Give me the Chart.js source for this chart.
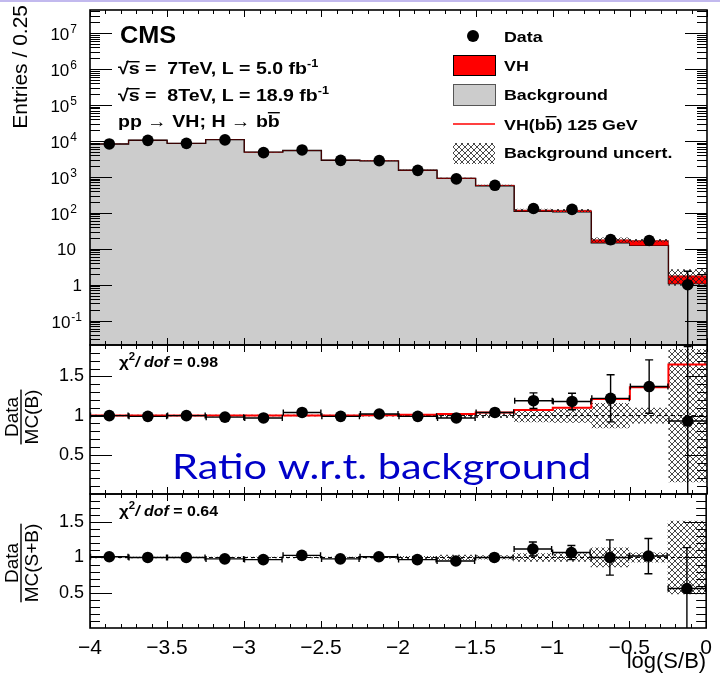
<!DOCTYPE html>
<html>
<head>
<meta charset="utf-8">
<title>VH(bb) log(S/B)</title>
<script src="https://cdn.jsdelivr.net/npm/chart.js@4.4.1/dist/chart.umd.min.js"></script>
<style>
  html, body { margin: 0; padding: 0; background: #fff; }
  #wrap { position: relative; width: 720px; height: 680px; overflow: hidden; }
  #wrap canvas { position: absolute; left: 0; top: 0; }
  .topline { position: absolute; left: 0; top: 0; width: 720px; height: 2px; background: #c2b9ee; z-index: 5; }
</style>
</head>
<body>
<div id="wrap">
  <div class="topline"></div>
  <canvas id="main-pad" width="720" height="680"></canvas>
  <canvas id="ratio-b" width="720" height="680"></canvas>
  <canvas id="ratio-sb" width="720" height="680"></canvas>
</div>
<script>
// bins of log(S/B), width 0.25
const binEdges = [-4, -3.75, -3.5, -3.25, -3, -2.75, -2.5, -2.25, -2, -1.75, -1.5, -1.25, -1, -0.75, -0.5, -0.25, 0];
const binCenters = [-3.875, -3.625, -3.375, -3.125, -2.875, -2.625, -2.375, -2.125, -1.875, -1.625, -1.375, -1.125, -0.875, -0.625, -0.375, -0.125];

// upper pad: entries per bin
const dataCounts = [8250, 10400, 8580, 10700, 4730, 5620, 2880, 2840, 1520, 880, 584, 132, 125, 18, 17, 1];
const dataErrUp = [91, 102, 93, 103, 69, 75, 54, 53, 39, 30, 24, 11.5, 11.2, 4.2, 4.1, 1.36];
const dataErrDown = [91, 102, 93, 103, 69, 75, 54, 53, 39, 30, 24, 11.5, 11.2, 4.2, 4.1, 1.0];
const bkgYield = [8250, 10500, 8580, 10900, 4880, 5400, 2910, 2785, 1535, 907, 562, 111, 106, 14.7, 12.4, 1.07];
const vhPlusBkg = [8260, 10510, 8590, 10910, 4890, 5410, 2920, 2800, 1550, 925, 584, 119, 117, 17.8, 16.9, 1.77];
const bkgUncLow = [8170, 10400, 8500, 10800, 4840, 5360, 2880, 2750, 1520, 897, 566, 109, 106, 15.0, 15.2, 0.94];
const bkgUncHigh = [8350, 10620, 8680, 11020, 4940, 5460, 2960, 2850, 1580, 953, 602, 129, 128, 20.6, 18.6, 2.7];

// middle pad: data / MC(B)
const ratioB = [1.0, 0.99, 1.0, 0.98, 0.97, 1.04, 0.99, 1.02, 0.99, 0.97, 1.04, 1.19, 1.18, 1.22, 1.37, 0.93];
const ratioBErr = [0.011, 0.01, 0.011, 0.01, 0.015, 0.014, 0.019, 0.019, 0.025, 0.033, 0.043, 0.1, 0.105, 0.3, 0.34, 0.95];
const sbOverB = [1.0, 1.0, 1.0, 1.0, 1.0, 1.0, 1.0, 1.005, 1.01, 1.02, 1.04, 1.07, 1.1, 1.21, 1.36, 1.65];
const ratioBUnc = [0.01, 0.01, 0.01, 0.01, 0.01, 0.01, 0.012, 0.013, 0.015, 0.03, 0.03, 0.085, 0.09, 0.16, 0.1, 0.85];

// lower pad: data / MC(S+B)
const ratioSB = [1.01, 1.0, 1.0, 0.98, 0.97, 1.03, 0.98, 1.01, 0.97, 0.95, 1.0, 1.12, 1.07, 1.0, 1.02, 0.56];
const ratioSBErr = [0.011, 0.01, 0.011, 0.01, 0.015, 0.014, 0.019, 0.019, 0.025, 0.033, 0.043, 0.1, 0.1, 0.25, 0.25, 0.58];
const ratioSBUnc = [0.01, 0.01, 0.01, 0.01, 0.01, 0.01, 0.012, 0.015, 0.02, 0.04, 0.03, 0.06, 0.06, 0.14, 0.07, 0.52];

const chi2B = '0.98';
const chi2SB = '0.64';
const xTickStep = 0.5;
const logDecades = [-1, 0, 1, 2, 3, 4, 5, 6, 7];

const FONT = '"Liberation Sans", Arial, Helvetica, sans-serif';
const SX = 1.15; // ROOT bold labels come out a bit wide

function steps(values) {
  const pts = values.map((v, i) => ({ x: binEdges[i], y: v }));
  pts.push({ x: binEdges[binEdges.length - 1], y: values[values.length - 1] });
  return pts;
}
function points(values) {
  return values.map((v, i) => ({ x: binCenters[i], y: v }));
}

function hatchFor(canvasId) {
  const tile = document.createElement('canvas');
  tile.width = 6; tile.height = 6;
  const g = tile.getContext('2d');
  g.strokeStyle = '#1a1a1a';
  g.lineWidth = 0.8;
  g.beginPath();
  g.moveTo(-1, -1); g.lineTo(7, 7);
  g.moveTo(-1, 7); g.lineTo(7, -1);
  g.stroke();
  return document.getElementById(canvasId).getContext('2d').createPattern(tile, 'repeat');
}

// draws a run of text pieces (superscripts, overlines) left to right
function drawParts(ctx, x, y, parts, sx) {
  ctx.save();
  ctx.translate(x, y);
  ctx.scale(sx, 1);
  ctx.textAlign = 'left';
  ctx.textBaseline = 'alphabetic';
  let cx = 0;
  for (const p of parts) {
    ctx.font = p.font;
    const w = ctx.measureText(p.t).width;
    ctx.fillText(p.t, cx, p.dy || 0);
    if (p.over !== undefined) {
      const from = p.overFrom || 0;
      ctx.fillRect(cx + from, p.over, w - from, 1.4);
    }
    cx += w;
  }
  ctx.restore();
  return cx * sx;
}

// ROOT style frame with inward ticks on all four sides
const frameTicks = {
  id: 'frameTicks',
  afterDatasetsDraw(chart, args, opts) {
    const { ctx, chartArea: a } = chart;
    const xs = chart.scales.x, ys = chart.scales.y;
    ctx.save();
    ctx.strokeStyle = '#000';
    ctx.lineWidth = 1;
    ctx.beginPath();
    for (let i = 0; i <= 40; i++) {
      const px = Math.round(xs.getPixelForValue(-4 + i * 0.1)) + 0.5;
      const len = i % 5 === 0 ? 7 : 4;
      ctx.moveTo(px, a.top); ctx.lineTo(px, a.top + len);
      ctx.moveTo(px, a.bottom); ctx.lineTo(px, a.bottom - len);
    }
    const yTicks = [];
    if (opts.log) {
      for (let d = -2; d <= 7; d++) {
        for (let m = 1; m <= 9; m++) yTicks.push([m * Math.pow(10, d), m === 1]);
      }
    } else {
      for (let i = 1; i < 19; i++) yTicks.push([i * 0.1, i % 5 === 0]);
    }
    yTicks.forEach(([v, major]) => {
      if (v < ys.min || v > ys.max) return;
      const py = Math.round(ys.getPixelForValue(v)) + 0.5;
      const len = major ? 22 : 10;
      ctx.moveTo(a.left, py); ctx.lineTo(a.left + len, py);
      ctx.moveTo(a.right, py); ctx.lineTo(a.right - len, py);
    });
    ctx.stroke();
    ctx.lineWidth = 1.6;
    ctx.strokeRect(a.left, a.top, a.right - a.left, a.bottom - a.top);
    ctx.restore();
  }
};

// x and y error bars under the data markers
const errorBars = {
  id: 'errorBars',
  beforeDatasetDraw(chart, args, opts) {
    if (!opts.values || args.index !== opts.index) return;
    const { ctx, chartArea: a } = chart;
    const xs = chart.scales.x, ys = chart.scales.y;
    ctx.save();
    ctx.beginPath();
    ctx.rect(a.left, a.top, a.right - a.left, a.bottom - a.top);
    ctx.clip();
    ctx.strokeStyle = '#000';
    ctx.lineWidth = 1.4;
    ctx.beginPath();
    opts.values.forEach((v, i) => {
      const py = ys.getPixelForValue(v);
      const x0 = xs.getPixelForValue(binEdges[i]);
      const x1 = xs.getPixelForValue(binEdges[i + 1]);
      const xc = xs.getPixelForValue(binCenters[i]);
      if (opts.xBars) {
        ctx.moveTo(x0, py); ctx.lineTo(x1, py);
        ctx.moveTo(x0 + 0.5, py - 3); ctx.lineTo(x0 + 0.5, py + 3);
        ctx.moveTo(x1 - 0.5, py - 3); ctx.lineTo(x1 - 0.5, py + 3);
      }
      const lo = v - opts.down[i], hi = v + opts.up[i];
      const pLo = lo <= ys.min ? a.bottom + 2 : ys.getPixelForValue(lo);
      const pHi = ys.getPixelForValue(hi);
      ctx.moveTo(xc, pLo); ctx.lineTo(xc, pHi);
      ctx.moveTo(xc - 4, pHi); ctx.lineTo(xc + 4, pHi);
      if (lo > ys.min) { ctx.moveTo(xc - 4, pLo); ctx.lineTo(xc + 4, pLo); }
    });
    ctx.stroke();
    ctx.restore();
  }
};

const overlays = {
  id: 'overlays',
  afterDraw(chart, args, opts) {
    if (opts.draw) opts.draw(chart);
  }
};

Chart.register(frameTicks, errorBars, overlays);

function stepSet(values, extra) {
  return Object.assign({
    data: steps(values), stepped: true, pointRadius: 0, borderWidth: 0, fill: false
  }, extra);
}
function markerSet(values, order) {
  return {
    data: points(values), showLine: false, pointRadius: 5.8, pointStyle: 'circle',
    pointBackgroundColor: '#000', pointBorderWidth: 0, order: order
  };
}
const xLinear = { type: 'linear', min: -4, max: 0, display: false };
const common = {
  responsive: false,
  animation: false,
  events: [],
  plugins: { legend: { display: false }, tooltip: { enabled: false } }
};

function ratioY() {
  return {
    type: 'linear', min: 0, max: 1.9,
    afterFit(s) { s.width = 90; },
    grid: { display: false, drawTicks: false },
    border: { display: false },
    ticks: {
      stepSize: 0.5, includeBounds: false, padding: 6, color: '#000',
      font: { family: FONT, size: 18 },
      callback: v => (v > 0 ? String(v) : '')
    }
  };
}

function ratioTitle(ctx, cy, denom) {
  ctx.save();
  ctx.translate(21, cy);
  ctx.rotate(-Math.PI / 2);
  ctx.fillStyle = '#000';
  ctx.font = '19px ' + FONT;
  ctx.textAlign = 'center';
  ctx.textBaseline = 'alphabetic';
  const w = ctx.measureText(denom).width;
  ctx.fillText('Data', 0, -3);
  ctx.fillRect(-w / 2, -0.7, w, 1.4);
  ctx.fillText(denom, 0, 17);
  ctx.restore();
}

function chiText(ctx, y, val) {
  ctx.fillStyle = '#000';
  drawParts(ctx, 119, y, [
    { t: '\u03c7', font: 'bold 15px ' + FONT },
    { t: '2', font: 'bold 10px ' + FONT, dy: -7 },
    { t: '/ ', font: 'italic bold 14px ' + FONT },
    { t: 'dof', font: 'italic bold 14px ' + FONT },
    { t: ' = ' + val, font: 'bold 14px ' + FONT }
  ], 1.14);
}

// ---------- upper pad ----------
const hatchMain = hatchFor('main-pad');
new Chart(document.getElementById('main-pad'), {
  type: 'line',
  data: {
    datasets: [
      stepSet(bkgYield, { fill: 'start', backgroundColor: '#cccccc', borderColor: '#000', borderWidth: 1.4, order: 6 }),
      stepSet(vhPlusBkg, { fill: '-1', backgroundColor: '#ff0000', borderColor: '#7a0000', borderWidth: 0.6, order: 5 }),
      stepSet(bkgUncLow, { order: 4 }),
      stepSet(bkgUncHigh, { fill: '-1', backgroundColor: hatchMain, order: 3 }),
      markerSet(dataCounts, 1)
    ]
  },
  options: Object.assign({}, common, {
    layout: { padding: { left: 90, right: 13, top: 10, bottom: 335 } },
    scales: {
      x: xLinear,
      y: { type: 'logarithmic', min: 0.021, max: 4.4e7, display: false }
    },
    plugins: Object.assign({}, common.plugins, {
      frameTicks: { log: true },
      errorBars: { index: 4, values: dataCounts, up: dataErrUp, down: dataErrDown, xBars: false },
      overlays: {
        draw(chart) {
          const ctx = chart.ctx, ys = chart.scales.y;
          ctx.save();
          ctx.fillStyle = '#000';
          // log axis labels
          logDecades.forEach(d => {
            const py = ys.getPixelForValue(Math.pow(10, d));
            if (d === 0 || d === 1) {
              ctx.font = '17px ' + FONT;
              ctx.textAlign = 'right';
              ctx.textBaseline = 'alphabetic';
              ctx.fillText(d === 0 ? '1' : '10', d === 0 ? 82 : 76, py + 6);
            } else {
              const sup = String(d);
              ctx.font = '12px ' + FONT;
              const ws = ctx.measureText(sup).width;
              ctx.font = '17px ' + FONT;
              const wb = ctx.measureText('10').width;
              const right = d < 0 ? 82 : 77;
              ctx.textAlign = 'left';
              ctx.textBaseline = 'alphabetic';
              ctx.fillText('10', right - ws - wb - 1, py + 7);
              ctx.font = '12px ' + FONT;
              ctx.fillText(sup, right - ws, py);
            }
          });
          // y title
          ctx.save();
          ctx.translate(27, 5);
          ctx.rotate(-Math.PI / 2);
          ctx.font = '21px ' + FONT;
          ctx.textAlign = 'right';
          ctx.textBaseline = 'alphabetic';
          ctx.fillText('Entries / 0.25', 0, 0);
          ctx.restore();

          // labels
          const B = 'bold 17px ' + FONT, S = 'bold 11px ' + FONT;
          drawParts(ctx, 120, 43, [{ t: 'CMS', font: 'bold 23px ' + FONT }], 1.1);
          drawParts(ctx, 118, 74, [
            { t: '\u221a', font: B }, { t: 's', font: B, over: -13, overFrom: -2 },
            { t: ' =  7TeV, L = 5.0 fb', font: B }, { t: '-1', font: S, dy: -7 }
          ], SX);
          drawParts(ctx, 118, 101, [
            { t: '\u221a', font: B }, { t: 's', font: B, over: -13, overFrom: -2 },
            { t: ' =  8TeV, L = 18.9 fb', font: B }, { t: '-1', font: S, dy: -7 }
          ], SX);
          drawParts(ctx, 118, 127, [
            { t: 'pp ', font: B }, { t: '\u2192', font: '17px ' + FONT },
            { t: ' VH; H ', font: B }, { t: '\u2192', font: '17px ' + FONT },
            { t: ' b', font: B }, { t: 'b', font: B, over: -15 }
          ], SX);

          // legend
          const L = 'bold 15.5px ' + FONT;
          ctx.beginPath();
          ctx.arc(473, 36, 6, 0, Math.PI * 2);
          ctx.fill();
          ctx.fillStyle = '#ff0000';
          ctx.fillRect(453, 55, 42, 20);
          ctx.strokeStyle = '#000';
          ctx.lineWidth = 1;
          ctx.strokeRect(453.5, 55.5, 42, 20);
          ctx.fillStyle = '#cccccc';
          ctx.fillRect(453, 84, 42, 21);
          ctx.strokeStyle = '#555';
          ctx.strokeRect(453.5, 84.5, 42, 21);
          ctx.strokeStyle = '#ff0000';
          ctx.lineWidth = 1.5;
          ctx.beginPath();
          ctx.moveTo(453, 124); ctx.lineTo(495, 124);
          ctx.stroke();
          ctx.fillStyle = hatchMain;
          ctx.fillRect(453, 143, 42, 21);
          ctx.fillStyle = '#000';
          drawParts(ctx, 504, 42, [{ t: 'Data', font: L }], SX);
          drawParts(ctx, 504, 71, [{ t: 'VH', font: L }], SX);
          drawParts(ctx, 504, 100, [{ t: 'Background', font: L }], SX);
          drawParts(ctx, 504, 130, [
            { t: 'VH(b', font: L }, { t: 'b', font: L, over: -14 }, { t: ') 125 GeV', font: L }
          ], SX);
          drawParts(ctx, 504, 158, [{ t: 'Background uncert.', font: L }], SX);
          ctx.restore();
        }
      }
    })
  })
});

// ---------- middle pad ----------
const hatchB = hatchFor('ratio-b');
new Chart(document.getElementById('ratio-b'), {
  type: 'line',
  data: {
    datasets: [
      stepSet(ratioBUnc.map(u => 1 - u), { order: 6 }),
      stepSet(ratioBUnc.map(u => 1 + u), { fill: '-1', backgroundColor: hatchB, order: 5 }),
      { data: [{ x: -4, y: 1 }, { x: 0, y: 1 }], borderColor: '#000', borderWidth: 1, borderDash: [4, 3], pointRadius: 0, fill: false, order: 4 },
      stepSet(sbOverB, { borderColor: '#ff0000', borderWidth: 2, order: 3 }),
      markerSet(ratioB, 1)
    ]
  },
  options: Object.assign({}, common, {
    layout: { padding: { left: 0, right: 13, top: 345, bottom: 186 } },
    scales: { x: xLinear, y: ratioY() },
    plugins: Object.assign({}, common.plugins, {
      frameTicks: { log: false },
      errorBars: { index: 4, values: ratioB, up: ratioBErr, down: ratioBErr, xBars: true },
      overlays: {
        draw(chart) {
          const ctx = chart.ctx;
          ctx.save();
          chiText(ctx, 367, chi2B);
          ratioTitle(ctx, 417, 'MC(B)');
          ctx.fillStyle = '#0000c8';
          drawParts(ctx, 172, 479, [{ t: 'Ratio w.r.t. background', font: '35px Lato, "Open Sans", sans-serif' }], 1.185);
          ctx.restore();
        }
      }
    })
  })
});

// ---------- lower pad ----------
const hatchSB = hatchFor('ratio-sb');
new Chart(document.getElementById('ratio-sb'), {
  type: 'line',
  data: {
    datasets: [
      stepSet(ratioSBUnc.map(u => 1 - u), { order: 6 }),
      stepSet(ratioSBUnc.map(u => 1 + u), { fill: '-1', backgroundColor: hatchSB, order: 5 }),
      { data: [{ x: -4, y: 1 }, { x: 0, y: 1 }], borderColor: '#000', borderWidth: 1, borderDash: [4, 3], pointRadius: 0, fill: false, order: 4 },
      markerSet(ratioSB, 1)
    ]
  },
  options: Object.assign({}, common, {
    layout: { padding: { left: 0, right: 13, top: 494, bottom: 0 } },
    scales: {
      x: {
        type: 'linear', min: -4, max: 0,
        afterFit(s) { s.height = 52; },
        grid: { display: false, drawTicks: false },
        border: { display: false },
        ticks: {
          stepSize: xTickStep, padding: 8, color: '#000', maxRotation: 0, autoSkip: false,
          font: { family: FONT, size: 21 },
          callback: v => (v < 0 ? '\u2212' + Math.abs(v) : String(v))
        },
        title: {
          display: true, text: 'log(S/B)', align: 'end', color: '#000',
          font: { family: FONT, size: 22 }, padding: { top: 0, bottom: 5 }
        }
      },
      y: ratioY()
    },
    plugins: Object.assign({}, common.plugins, {
      frameTicks: { log: false },
      errorBars: { index: 3, values: ratioSB, up: ratioSBErr, down: ratioSBErr, xBars: true },
      overlays: {
        draw(chart) {
          const ctx = chart.ctx;
          ctx.save();
          chiText(ctx, 516, chi2SB);
          ratioTitle(ctx, 563, 'MC(S+B)');
          ctx.restore();
        }
      }
    })
  })
});
</script>
</body>
</html>
